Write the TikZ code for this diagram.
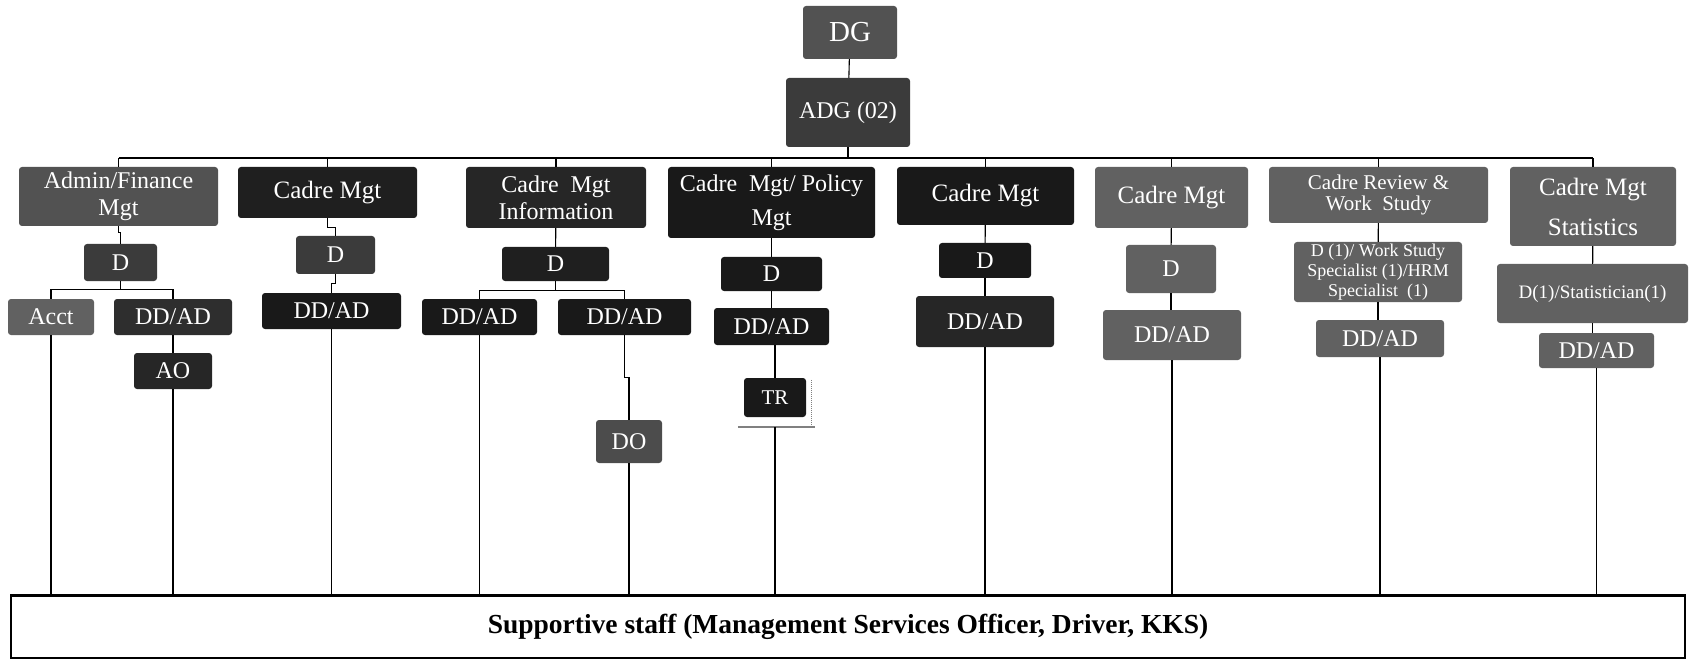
\documentclass[tikz,border=0pt]{standalone}
\usepackage{fontspec}
\setmainfont{Liberation Serif}
\usetikzlibrary{calc}
\tikzset{
	unit/.style={rounded corners=3pt, inner sep=0pt, text=white, align=center, font=\fontsize{24}{27}\selectfont},
	blackunit/.style={unit, fill=black!88},
	darkunit/.style={unit, fill=black!77},
	greyunit/.style={unit, fill=black!62},
	wh/.style 2 args={minimum width=#1, minimum height=#2},
	link/.style={line width=1.1pt, black},
}

\begin{document}
\begin{tikzpicture}[x=1pt,y=-1pt]
			\useasboundingbox (0,0) rectangle (1691,660);
			%%%%% TOP %%%%%
			
			\node[greyunit, fill=black!68, wh={94}{53}, font=\fontsize{29}{30}\selectfont] (dg) at (850,32.5) {DG};
			\node[darkunit, wh={124}{69}] (adg) at (848,112.5) {ADG (02)};
			
			%%%%% UNITS %%%%%
			
			\node[greyunit, fill=black!68, wh={199}{59}] (admin) at (118.5,196.5) {Admin/Finance\\Mgt};
			\node[blackunit, wh={179}{51}, font=\fontsize{25}{27}\selectfont] (cm2) at (327.5,192.5) {Cadre Mgt};
			\node[blackunit, fill=black!85, wh={180}{61}] (cminfo) at (556,197.5) {Cadre\ \ Mgt\\Information};
			\node[blackunit, fill=black!90, wh={207}{71}, font=\fontsize{24}{34}\selectfont] (policy) at (771.5,202.5) {Cadre\ \ Mgt/ Policy\\Mgt};
			\node[blackunit, fill=black!90, wh={177}{58}, font=\fontsize{25}{27}\selectfont] (cm5) at (985.5,196) {Cadre Mgt};
			\node[greyunit, wh={153}{61}, font=\fontsize{25}{27}\selectfont] (cm6) at (1171.5,197.5) {Cadre Mgt};
			\node[greyunit, wh={219}{56}, font=\fontsize{21}{21}\selectfont] (review) at (1378.5,195) {Cadre Review \&\\Work\ \ Study};
			\node[greyunit, wh={166}{79}, font=\fontsize{25}{40}\selectfont] (stats) at (1593,206.5) {Cadre Mgt\\Statistics};
			
			%%%%% LEVEL 2 %%%%%
			
			\node[darkunit, wh={73}{37}] (d1) at (120.5,262.5) {D};
			\node[greyunit, wh={86}{36}] (acct) at (51,317) {Acct};
			\node[blackunit, fill=black!82, wh={118}{36}] (dd1) at (173,317) {DD/AD};
			\node[blackunit, fill=black!85, wh={78}{36}] (ao) at (173,371) {AO};
			
			\node[darkunit, wh={79}{38}] (d2) at (335.5,255) {D};
			\node[blackunit, fill=black!90, wh={139}{36}] (dd2) at (331.5,311) {DD/AD};
			
			\node[blackunit, wh={107}{34}] (d3) at (555.5,264) {D};
			\node[blackunit, fill=black!90, wh={115}{36}] (dd3a) at (479.5,317) {DD/AD};
			\node[blackunit, fill=black!90, wh={133}{36}] (dd3b) at (624.5,317) {DD/AD};
			\node[greyunit, fill=black!70, wh={66}{43}] (do) at (629,441.5) {DO};
			
			\node[blackunit, fill=black!90, wh={101}{34}] (d4) at (771.5,274) {D};
			\node[blackunit, fill=black!90, wh={115}{37}] (dd4) at (771.5,326.5) {DD/AD};
			\node[blackunit, fill=black!90, wh={62}{39}, font=\fontsize{21}{24}\selectfont] (tr) at (775,397.5) {TR};
			
			\node[blackunit, fill=black!90, wh={92}{35}] (d5) at (985,260.5) {D};
			\node[blackunit, fill=black!85, wh={138}{51}] (dd5) at (985,321.5) {DD/AD};
			
			\node[greyunit, wh={90}{48}] (d6) at (1171,269) {D};
			\node[greyunit, wh={138}{50}] (dd6) at (1172,335) {DD/AD};
			
			\node[greyunit, wh={168}{60}, font=\fontsize{18}{20}\selectfont] (d7) at (1378,272) {D (1)/ Work Study\\Specialist (1)/HRM\\Specialist\ \ (1)};
			\node[greyunit, wh={128}{37}] (dd7) at (1380,338.5) {DD/AD};
			
			\node[greyunit, wh={191}{59}, font=\fontsize{19}{21}\selectfont] (d8) at (1592.5,293.5) {D(1)/Statistician(1)};
			\node[greyunit, wh={115}{35}] (dd8) at (1596.5,350.5) {DD/AD};
			
			%%%%% STAFF %%%%%
			
			\node[draw, line width=1.6pt, wh={1674}{62}, inner sep=0pt, font=\fontsize{27.5}{30}\selectfont\bfseries] (staff) at (848,627) {Supportive staff (Management Services Officer, Driver, KKS)};
			\draw[line width=2.6pt] (staff.north west) -- (staff.north east);
			
			%%%%% LINKS %%%%%
			
			\coordinate (busL) at (118.5,158);
			\coordinate (busR) at (1593,158);
			\draw[link] (dg) -- (adg);
			\draw[link] (busL) -- (busR);
			\draw[link] (adg.south) -- (adg.south |- busL);
			\foreach \u in {admin,cm2,cminfo,policy,cm5,cm6,review,stats}
				\draw[link] (\u.north) -- (\u.north |- busL);
			
			\draw[link] (admin.south) -- ++(0,6) -| (d1.north);
			\coordinate (br1) at ($(d1.south)+(0,8)$);
			\draw[link] (d1.south) -- (br1);
			\draw[link] (acct.north) |- (br1) -| (dd1.north);
			\draw[link] (dd1) -- (ao);
			
			\draw[link] (cm2.south) -- ++(0,9) -| (d2.north);
			\draw[link] (d2.south) -- ++(0,9) -| (dd2.north);
			
			\draw[link] (cminfo) -- (d3);
			\coordinate (br3) at ($(d3.south)+(0,9)$);
			\draw[link] (d3.south) -- (br3);
			\draw[link] (dd3a.north) |- (br3) -| (dd3b.north);
			\draw[link] (dd3b.south) -- ++(0,42) -| (do.north);
			
			\draw[link] (policy) -- (d4);
			\draw[link] (d4) -- (dd4);
			\draw[link] (tr.north) -- (tr.north |- dd4.south);
			\draw[line width=2.2pt, black!50] ($(tr.south west)+(-6,10)$) -- ($(tr.south east)+(9,10)$);
			\draw[line width=1pt, densely dotted, black!50] ($(tr.north east)+(5,2)$) -- ($(tr.south east)+(5,9)$);
			
			\draw[link] (cm5) -- (d5);
			\draw[link] (d5) -- (dd5);
			\draw[link] (cm6) -- (d6);
			\draw[link] (d6.south) -- (d6.south |- dd6.north);
			\draw[link] (review) -- (d7);
			\draw[link] (d7.south) -- (d7.south |- dd7.north);
			\draw[link] (stats) -- (d8);
			\draw[link] (d8.south) -- (d8.south |- dd8.north);
			
			\foreach \u in {acct,ao,dd2,dd3a,do,dd5,dd6,dd7,dd8}
				\draw[link] (\u.south) -- (\u.south |- staff.north);
			\draw[link] ($(tr.south)+(0,10)$) -- (tr.south |- staff.north);
			
			%%%%% END %%%%%
\end{tikzpicture}
\end{document}
